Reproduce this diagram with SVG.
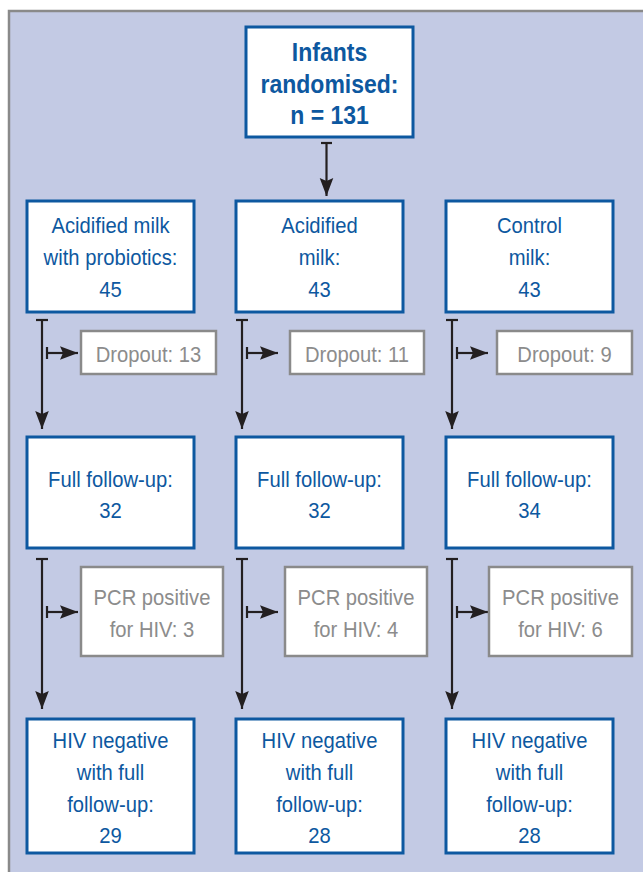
<svg xmlns="http://www.w3.org/2000/svg" width="643" height="872" viewBox="0 0 643 872">
<style>
.bg{fill:#c3cae4;stroke:#8a8a8a;stroke-width:2.5}
.box{fill:#fff;stroke:#0d58a0;stroke-width:3}
.gbox{fill:#fff;stroke:#8a8a8a;stroke-width:2.5}
text{font-family:"Liberation Sans",Arial,sans-serif;font-size:22px;text-anchor:middle}
.t{fill:#0d58a0}
.b{font-weight:bold;font-size:25px}
.g{fill:#8c8c8c}
.ln{stroke:#231f20;stroke-width:2.2;fill:none}
</style>
<defs>
<marker id="ah" markerUnits="userSpaceOnUse" markerWidth="20" markerHeight="16" viewBox="-19 -8 20 16" refX="0" refY="0" orient="auto">
<path d="M0,0 L-18,-6.8 L-15,0 L-18,6.8 Z" fill="#231f20"/>
</marker>
</defs>
<rect class="bg" x="9" y="11" width="650" height="880"/>

<g id="connectors">
<path class="ln" d="M321,143 H332"/><path class="ln" d="M326.5,143 V196" marker-end="url(#ah)"/>
<path class="ln" d="M36,320 H48"/><path class="ln" d="M42,320 V429" marker-end="url(#ah)"/>
<path class="ln" d="M236,320 H248"/><path class="ln" d="M242,320 V429" marker-end="url(#ah)"/>
<path class="ln" d="M446,320 H458"/><path class="ln" d="M452,320 V429" marker-end="url(#ah)"/>
<path class="ln" d="M47,347 V359"/><path class="ln" d="M47,353 H78" marker-end="url(#ah)"/>
<path class="ln" d="M247,347 V359"/><path class="ln" d="M247,353 H278" marker-end="url(#ah)"/>
<path class="ln" d="M457,347 V359"/><path class="ln" d="M457,353 H488" marker-end="url(#ah)"/>
<path class="ln" d="M36,559 H48"/><path class="ln" d="M42,559 V709" marker-end="url(#ah)"/>
<path class="ln" d="M236,559 H248"/><path class="ln" d="M242,559 V709" marker-end="url(#ah)"/>
<path class="ln" d="M446,559 H458"/><path class="ln" d="M452,559 V709" marker-end="url(#ah)"/>
<path class="ln" d="M47,606 V618"/><path class="ln" d="M47,612 H78" marker-end="url(#ah)"/>
<path class="ln" d="M247,606 V618"/><path class="ln" d="M247,612 H278" marker-end="url(#ah)"/>
<path class="ln" d="M457,606 V618"/><path class="ln" d="M457,612 H488" marker-end="url(#ah)"/>
</g>

<g id="randomised">
<rect class="box" x="246" y="27" width="167" height="110"/>
<text class="t b" transform="translate(329.5 61) scale(0.92 1)">Infants</text>
<text class="t b" transform="translate(329.5 92.5) scale(0.92 1)">randomised:</text>
<text class="t b" transform="translate(329.5 124) scale(0.92 1)">n = 131</text>
</g>

<g id="arm1">
<rect class="box" x="27" y="201" width="167" height="111"/>
<text class="t" transform="translate(110.5 233) scale(0.92 1)">Acidified milk</text>
<text class="t" transform="translate(110.5 265) scale(0.92 1)">with probiotics:</text>
<text class="t" transform="translate(110.5 297) scale(0.92 1)">45</text>
</g>
<g id="arm2">
<rect class="box" x="236" y="201" width="167" height="111"/>
<text class="t" transform="translate(319.5 233) scale(0.92 1)">Acidified</text>
<text class="t" transform="translate(319.5 265) scale(0.92 1)">milk:</text>
<text class="t" transform="translate(319.5 297) scale(0.92 1)">43</text>
</g>
<g id="arm3">
<rect class="box" x="446" y="201" width="167" height="111"/>
<text class="t" transform="translate(529.5 233) scale(0.92 1)">Control</text>
<text class="t" transform="translate(529.5 265) scale(0.92 1)">milk:</text>
<text class="t" transform="translate(529.5 297) scale(0.92 1)">43</text>
</g>

<g id="dropout1">
<rect class="gbox" x="81" y="331" width="135" height="43"/>
<text class="g" transform="translate(148.5 362) scale(0.92 1)">Dropout: 13</text>
</g>
<g id="dropout2">
<rect class="gbox" x="290" y="331" width="134" height="43"/>
<text class="g" transform="translate(357 362) scale(0.92 1)">Dropout: 11</text>
</g>
<g id="dropout3">
<rect class="gbox" x="497" y="331" width="135" height="43"/>
<text class="g" transform="translate(564.5 362) scale(0.92 1)">Dropout: 9</text>
</g>

<g id="follow1">
<rect class="box" x="27" y="437" width="167" height="111"/>
<text class="t" transform="translate(110.5 486.5) scale(0.92 1)">Full follow-up:</text>
<text class="t" transform="translate(110.5 518) scale(0.92 1)">32</text>
</g>
<g id="follow2">
<rect class="box" x="236" y="437" width="167" height="111"/>
<text class="t" transform="translate(319.5 486.5) scale(0.92 1)">Full follow-up:</text>
<text class="t" transform="translate(319.5 518) scale(0.92 1)">32</text>
</g>
<g id="follow3">
<rect class="box" x="446" y="437" width="167" height="111"/>
<text class="t" transform="translate(529.5 486.5) scale(0.92 1)">Full follow-up:</text>
<text class="t" transform="translate(529.5 518) scale(0.92 1)">34</text>
</g>

<g id="pcr1">
<rect class="gbox" x="81" y="567" width="142" height="89"/>
<text class="g" transform="translate(152 605) scale(0.92 1)">PCR positive</text>
<text class="g" transform="translate(152 636.5) scale(0.92 1)">for HIV: 3</text>
</g>
<g id="pcr2">
<rect class="gbox" x="285" y="567" width="142" height="89"/>
<text class="g" transform="translate(356 605) scale(0.92 1)">PCR positive</text>
<text class="g" transform="translate(356 636.5) scale(0.92 1)">for HIV: 4</text>
</g>
<g id="pcr3">
<rect class="gbox" x="489" y="567" width="143" height="89"/>
<text class="g" transform="translate(560.5 605) scale(0.92 1)">PCR positive</text>
<text class="g" transform="translate(560.5 636.5) scale(0.92 1)">for HIV: 6</text>
</g>

<g id="neg1">
<rect class="box" x="27" y="719" width="167" height="134"/>
<text class="t" transform="translate(110.5 748) scale(0.92 1)">HIV negative</text>
<text class="t" transform="translate(110.5 780) scale(0.92 1)">with full</text>
<text class="t" transform="translate(110.5 811.5) scale(0.92 1)">follow-up:</text>
<text class="t" transform="translate(110.5 843) scale(0.92 1)">29</text>
</g>
<g id="neg2">
<rect class="box" x="236" y="719" width="167" height="134"/>
<text class="t" transform="translate(319.5 748) scale(0.92 1)">HIV negative</text>
<text class="t" transform="translate(319.5 780) scale(0.92 1)">with full</text>
<text class="t" transform="translate(319.5 811.5) scale(0.92 1)">follow-up:</text>
<text class="t" transform="translate(319.5 843) scale(0.92 1)">28</text>
</g>
<g id="neg3">
<rect class="box" x="446" y="719" width="167" height="134"/>
<text class="t" transform="translate(529.5 748) scale(0.92 1)">HIV negative</text>
<text class="t" transform="translate(529.5 780) scale(0.92 1)">with full</text>
<text class="t" transform="translate(529.5 811.5) scale(0.92 1)">follow-up:</text>
<text class="t" transform="translate(529.5 843) scale(0.92 1)">28</text>
</g>
</svg>
